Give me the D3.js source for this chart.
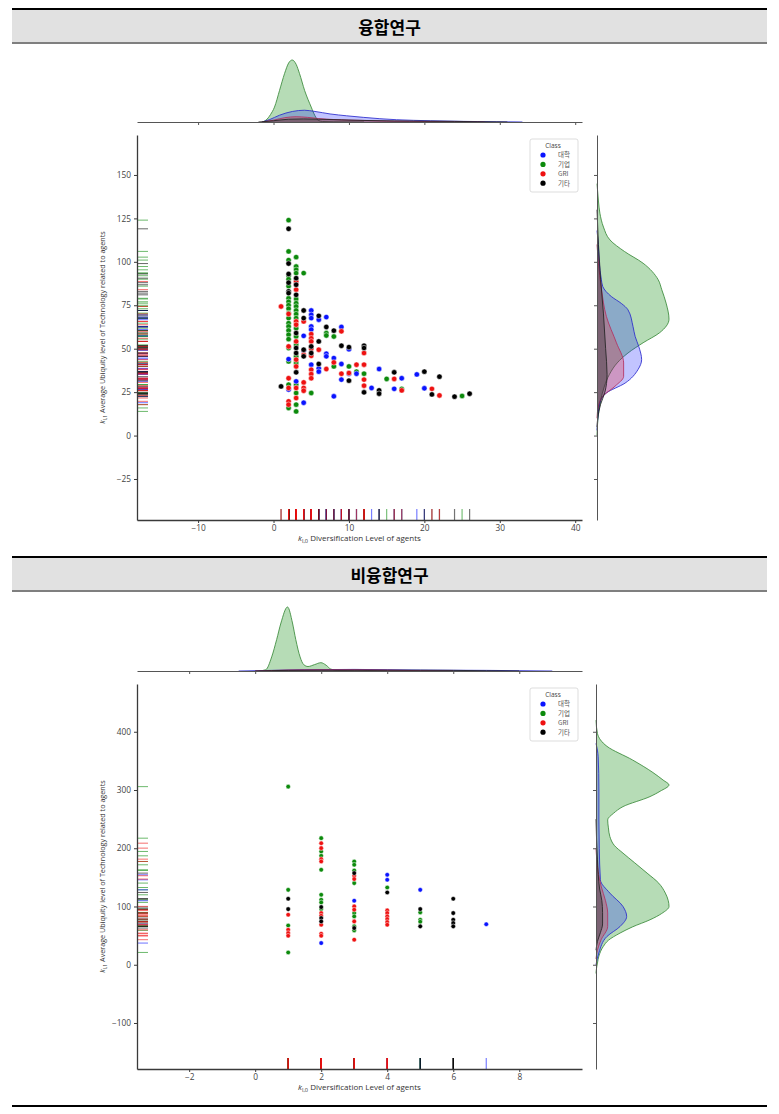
<!DOCTYPE html>
<html><head><meta charset="utf-8">
<script src="https://cdn.jsdelivr.net/npm/d3@7"></script>
<style>body{margin:0;background:#fff}</style>
</head><body><svg id="c" width="779" height="1114"></svg>
<script>
// ---------------- DATA ----------------
const classes = ["대학", "기업", "GRI", "기타"];
const titles = ["융합연구", "비융합연구"];
const xLabelSub = ["l,0", "l,0"];
const yLabelSub = ["l,1", "l,1"];
const xLabelText = "Diversification Level of agents";
const yLabelText = "Average Ubiquity level of Technology related to agents";

const convXTicks = [-10, 0, 10, 20, 30, 40];
const convYTicks = [-25, 0, 25, 50, 75, 100, 125, 150];
const nonXTicks = [-2, 0, 2, 4, 6, 8];
const nonYTicks = [-100, 0, 100, 200, 300, 400];
const convXDomain = [-18.1, 40.9];
const convYDomain = [-48.6, 173];
const nonXDomain = [-3.58, 9.9];
const nonYDomain = [-179, 482];

// 융합연구 points [x, y]
const convUniv = [[2,44],[2,26.5],[3,31.2],[4,57.4],[4,49],[4,18.9],[5,72],[5,69.5],[5,67.6],[5,62.8],[5,61],[5,40.8],[6,66.7],[6,38.7],[6,36.8],[7,68.2],[7,47.1],[7,45.6],[8,44.6],[8,22.6],[9,62.5],[9,41.2],[9,32.2],[10,49.7],[10,35.6],[11,35.6],[13,27.4],[14,38.3],[16,26.9],[17,33],[19,35.2],[20,27.2]];
const convCorp = [[2,124],[2,106],[2,101],[2,92],[2,90],[2,86],[2,79],[2,77],[2,75],[2,73],[2,70.5],[2,67.6],[2,64.7],[2,62.8],[2,60.5],[2,58],[2,55.5],[2,50.4],[2,42.7],[2,29.3],[2,15.9],[3,102.7],[3,97.3],[3,95.4],[3,93.5],[3,78.6],[3,76.2],[3,74.3],[3,72],[3,69.9],[3,67.6],[3,61.8],[3,57],[3,52.2],[3,45.6],[3,41.8],[3,29.3],[3,24.5],[3,17.8],[3,13.9],[4,93.5],[5,24.5],[7,59],[7,57.6],[8,57],[8,39.8],[10,39.8],[11,36.8],[12,35.6],[15,32.6],[17,26.9],[25,22.8]];
const convGri = [[1,74.3],[2,70],[2,51.3],[2,33],[2,27.4],[2,19.7],[2,17.8],[3,88.7],[3,84],[3,65.7],[3,63.8],[3,54.2],[3,43.7],[3,39.8],[3,27.4],[3,21.6],[4,65.7],[4,46.5],[4,30.6],[4,27.4],[4,25.8],[5,58.4],[5,56],[5,54.2],[5,49.9],[5,45.9],[5,37.9],[5,35.4],[5,33],[6,49.4],[7,38.3],[8,42.1],[9,60],[9,35.6],[10,36],[11,40.8],[12,47.5],[12,40.8],[12,32.2],[12,28.7],[16,32.6],[17,26],[21,26.9],[22,23.1]];
const convEtc = [[1,28.3],[2,119],[2,99],[2,93],[2,88],[2,83],[2,82],[3,90.6],[3,86.8],[3,81],[3,59],[3,50.4],[3,47.5],[3,36.4],[4,72],[4,67.6],[4,49.4],[4,45.6],[5,51.3],[5,47.5],[6,68.9],[6,54.2],[6,41.2],[7,62.5],[8,60.4],[9,51.7],[10,50.9],[10,31.6],[12,51.7],[12,50.4],[12,24.9],[14,26],[14,24.1],[16,36.4],[20,36.8],[21,23.7],[22,33.9],[24,22.4],[26,24.1]];

// 비융합연구 points [x, y]
const nonUniv = [[2,37.2],[3,109.9],[4,154.4],[4,145.8],[5,128.6],[7,69.6]];
const nonCorp = [[1,305.8],[1,128.6],[1,67.4],[1,21.1],[2,217.3],[2,194.5],[2,187],[2,163],[2,120.1],[2,111.5],[2,107],[2,95.5],[3,177.3],[3,171.6],[3,161.9],[3,140.2],[3,88.7],[3,83],[3,65.9],[3,59],[4,132.6],[5,89.9],[5,77.2],[5,73.8]];
const nonGri = [[1,85.8],[1,60],[1,54.3],[1,49.7],[2,208.7],[2,200.2],[2,181.3],[2,177.3],[2,88.7],[2,84.1],[2,68.6],[2,53.2],[2,49.7],[3,152.8],[3,147.1],[3,100.2],[3,94.5],[3,74.4],[3,43],[4,93.3],[4,88.7],[4,83],[4,78.4],[4,73.2],[4,68.6]];
const nonEtc = [[1,113.2],[1,95.5],[2,99],[2,80.1],[2,74.4],[3,157.3],[3,63],[4,124.1],[5,95.5],[5,65.9],[6,113.2],[6,88.7],[6,77.2],[6,71.5],[6,65.9]];

// marginal densities (relative) [value, density]
const convXDensUniv = [[-1.5,0],[-0.5,0.04],[0.8,0.11],[2.5,0.17],[4.1,0.19],[5.5,0.17],[7.5,0.13],[9.7,0.1],[11.9,0.075],[14.1,0.053],[16.3,0.037],[20.8,0.02],[25.2,0.01],[29.6,0.004],[33,0]];
const convXDensCorp = [[-1.5,0],[-1,0.03],[-0.4,0.12],[0.13,0.24],[0.8,0.51],[1.46,0.78],[2,0.95],[2.48,1],[3,0.93],[3.45,0.78],[4.12,0.51],[5,0.24],[5.5,0.1],[5.9,0.03],[6.5,0.008],[8,0.003],[12,0]];
const convXDensGri = [[-1.5,0],[0,0.03],[1.5,0.07],[3,0.085],[4.5,0.075],[6,0.055],[8,0.04],[10,0.03],[12,0.025],[15,0.015],[18,0.01],[22,0.006],[25,0.002],[28,0]];
const convXDensEtc = [[-2,0],[0,0.02],[2,0.045],[4,0.05],[6,0.045],[9,0.035],[12,0.025],[16,0.018],[20,0.014],[24,0.01],[27,0.005],[31,0]];
const convYDensUniv = [[3,0],[9.2,0.01],[18.8,0.04],[24.5,0.13],[30.2,0.39],[38,0.57],[43.7,0.62],[51.3,0.58],[57,0.53],[62.8,0.5],[72.4,0.43],[76,0.34],[80,0.2],[85.8,0.08],[90,0.06],[100,0.03],[112,0.015],[118,0]];
const convYDensCorp = [[0,0],[5,0.005],[12,0.02],[20,0.05],[28,0.1],[35,0.17],[41.8,0.28],[47.5,0.43],[53.4,0.64],[59.2,0.87],[67,1],[76.2,0.96],[83.9,0.9],[89.7,0.85],[99.2,0.64],[106,0.38],[112.6,0.18],[120,0.09],[128,0.04],[135,0.02],[145,0]];
const convYDensGri = [[10,0],[16.9,0.02],[22.6,0.08],[28.4,0.25],[34.1,0.37],[41.8,0.37],[53.4,0.27],[68.6,0.13],[85,0.06],[99.2,0.02],[110,0]];
const convYDensEtc = [[5,0],[10,0.01],[18,0.05],[25,0.11],[35,0.14],[50,0.12],[70,0.09],[90,0.05],[110,0.02],[130,0]];

const nonXDensUniv = [[-0.5,0],[0.5,0.01],[1.5,0.02],[3,0.025],[4,0.02],[5,0.015],[6,0.012],[7,0.01],[8,0.005],[9,0]];
const nonXDensCorp = [[0.1,0],[0.32,0.02],[0.5,0.22],[0.65,0.49],[0.78,0.75],[0.98,1],[1.13,0.75],[1.23,0.49],[1.36,0.22],[1.47,0.1],[1.6,0.07],[1.8,0.1],[1.99,0.13],[2.15,0.09],[2.29,0.03],[2.5,0.01],[2.8,0.012],[3.1,0.018],[3.4,0.008],[4,0]];
const nonXDensGri = [[0,0],[1,0.015],[2,0.02],[3,0.02],[4,0.015],[5,0.005],[6,0]];
const nonXDensEtc = [[0,0],[1,0.01],[2,0.012],[3,0.012],[4,0.012],[5,0.012],[6,0.01],[7,0.004],[8,0]];
const nonYDensUniv = [[0,0],[20.5,0.04],[48.5,0.15],[65.7,0.33],[82.8,0.42],[100,0.37],[123,0.19],[145.8,0.06],[200,0.045],[250,0.04],[300,0.04],[357,0.03],[380,0]];
const nonYDensCorp = [[-15,0],[-10,0.003],[2.9,0.02],[15,0.04],[31.4,0.1],[42,0.17],[54.4,0.33],[65,0.5],[77.2,0.74],[88,0.9],[100,1],[110,0.99],[123,0.95],[140,0.86],[157.3,0.7],[175,0.53],[191.6,0.37],[205,0.25],[220,0.19],[235,0.17],[248.7,0.16],[260,0.24],[271.5,0.37],[288.7,0.74],[298,0.88],[308.7,1],[317,0.92],[330,0.78],[351.6,0.5],[375,0.15],[397,0.02],[420,0]];
const nonYDensGri = [[10,0],[25,0.02],[42.9,0.07],[65.7,0.16],[88.7,0.16],[110,0.13],[135,0.07],[160,0.03],[200,0]];
const nonYDensEtc = [[25,0],[40,0.02],[55,0.06],[70,0.09],[90,0.09],[110,0.08],[130,0.05],[180,0.02],[250,0]];

// ---------------- DRAWING ----------------
const colors = { "대학": "#0a14ff", "기업": "#0c8a0c", "GRI": "#ee1111", "기타": "#000000" };
const edgeColors = { "대학": "#2a2acc", "기업": "#3a8a3a", "GRI": "#b33060", "기타": "#222" };
const svg = d3.select("#c");
svg.append("rect").attr("width", 779).attr("height", 1114).attr("fill", "#fff");
const FONT = "'Open Sans', 'DejaVu Sans', sans-serif";

function header(y0, title) {
  svg.append("rect").attr("x", 12).attr("y", y0 + 2).attr("width", 755).attr("height", 33).attr("fill", "#e1e1e1");
  svg.append("rect").attr("x", 12).attr("y", y0).attr("width", 755).attr("height", 2).attr("fill", "#000");
  svg.append("rect").attr("x", 12).attr("y", y0 + 34).attr("width", 755).attr("height", 2).attr("fill", "#7f7f7f");
  svg.append("text").attr("x", 389.5).attr("y", y0 + 26).attr("text-anchor", "middle")
    .attr("font-family", "'Noto Sans CJK KR', sans-serif").attr("font-weight", "bold")
    .attr("font-size", 17).attr("fill", "#000").text(title);
}

function kLabel(t, sub, rest, fs) {
  t.append("tspan").attr("font-style", "italic").text("k");
  t.append("tspan").attr("font-size", fs * 0.7).attr("dy", fs * 0.25).text(sub);
  t.append("tspan").attr("dy", -fs * 0.25).text(" " + rest);
}

function panel(cfg) {
  const g = svg.append("g");
  const L = 137, R = 582;
  const x = d3.scaleLinear().domain(cfg.xDomain).range([L, R]);
  const y = d3.scaleLinear().domain(cfg.yDomain).range([cfg.bottom, cfg.top]);
  const hx = d3.scaleLinear().domain([0, 1]).range([cfg.base, cfg.base - cfg.topH]);
  const wy = d3.scaleLinear().domain([0, 1]).range([cfg.rx, cfg.rx + cfg.rightW]);
  const order = ["기업", "대학", "GRI", "기타"];

  const clipId = "clip" + cfg.id;
  svg.append("clipPath").attr("id", clipId).append("rect").attr("x", L).attr("y", 0).attr("width", R - L).attr("height", 1114);

  // top marginal densities
  const areaX = d3.area().x(d => x(d[0])).y0(cfg.base).y1(d => hx(d[1])).curve(d3.curveMonotoneX);
  const lineX = d3.line().x(d => x(d[0])).y(d => hx(d[1])).curve(d3.curveMonotoneX);
  const gt = g.append("g").attr("clip-path", `url(#${clipId})`);
  order.forEach(c => {
    const d = cfg.xDens[c];
    gt.append("path").attr("d", areaX(d)).attr("fill", colors[c]).attr("fill-opacity", c === "기업" ? 0.3 : 0.25);
    gt.append("path").attr("d", lineX(d)).attr("fill", "none").attr("stroke", edgeColors[c]).attr("stroke-opacity", 0.85).attr("stroke-width", 1);
  });
  const axT = g.append("g").attr("transform", `translate(0,${cfg.base})`)
    .call(d3.axisBottom(x).tickValues(cfg.xTicks).tickSize(3).tickSizeOuter(0).tickFormat(""));
  axT.selectAll("path,line").attr("stroke", "#555").attr("stroke-width", 1);

  // right marginal densities
  const areaY = d3.area().y(d => y(d[0])).x0(cfg.rx).x1(d => wy(d[1])).curve(d3.curveMonotoneY);
  const lineY = d3.line().y(d => y(d[0])).x(d => wy(d[1])).curve(d3.curveMonotoneY);
  order.forEach(c => {
    const d = cfg.yDens[c].slice().sort((a, b) => a[0] - b[0]);
    g.append("path").attr("d", areaY(d)).attr("fill", colors[c]).attr("fill-opacity", c === "기업" ? 0.3 : 0.25);
    g.append("path").attr("d", lineY(d)).attr("fill", "none").attr("stroke", edgeColors[c]).attr("stroke-opacity", 0.85).attr("stroke-width", 1);
  });
  const axR = g.append("g").attr("transform", `translate(${cfg.rx},0)`)
    .call(d3.axisLeft(y).tickValues(cfg.yTicks).tickSize(3).tickSizeOuter(0).tickFormat(""));
  axR.selectAll("path,line").attr("stroke", "#555").attr("stroke-width", 1);

  // rugs
  const rugOrder = ["기업", "대학", "기타", "GRI"];
  rugOrder.forEach(c => {
    cfg.pts[c].forEach(p => {
      g.append("line").attr("x1", L).attr("x2", L + 11).attr("y1", y(p[1])).attr("y2", y(p[1]))
        .attr("stroke", colors[c]).attr("stroke-opacity", 0.6).attr("stroke-width", 1);
      g.append("line").attr("x1", x(p[0])).attr("x2", x(p[0])).attr("y1", cfg.bottom).attr("y2", cfg.bottom - 11)
        .attr("stroke", colors[c]).attr("stroke-opacity", 0.55).attr("stroke-width", 1.2);
    });
  });

  // scatter
  order.forEach(c => {
    g.selectAll(null).data(cfg.pts[c]).enter().append("circle")
      .attr("cx", d => x(d[0])).attr("cy", d => y(d[1])).attr("r", cfg.r)
      .attr("fill", colors[c]).attr("stroke", "#fff").attr("stroke-width", 0.5);
  });

  // axes
  const axL = g.append("g").attr("transform", `translate(${L},0)`)
    .call(d3.axisLeft(y).tickValues(cfg.yTicks).tickSize(3).tickSizeOuter(0).tickPadding(3));
  const axB = g.append("g").attr("transform", `translate(0,${cfg.bottom})`)
    .call(d3.axisBottom(x).tickValues(cfg.xTicks).tickSize(3).tickSizeOuter(0).tickPadding(2));
  [axL, axB].forEach(a => {
    a.selectAll("path").attr("stroke", "#3a3a3a").attr("stroke-width", 1.3);
    a.selectAll("line").attr("stroke", "#3a3a3a");
    a.selectAll("text").attr("font-family", FONT).attr("font-size", 8.3).attr("fill", "#444");
  });

  // labels
  const xl = g.append("text").attr("x", (L + R) / 2).attr("y", cfg.bottom + 21).attr("text-anchor", "middle")
    .attr("font-family", FONT).attr("font-size", 8).attr("fill", "#333");
  kLabel(xl, cfg.xSub, xLabelText, 8);
  const yl = g.append("text").attr("transform", `translate(105,${(cfg.top + cfg.bottom) / 2}) rotate(-90)`)
    .attr("text-anchor", "middle").attr("font-family", FONT).attr("font-size", 7.2).attr("fill", "#333");
  kLabel(yl, cfg.ySub, yLabelText, 7.2);

  // legend
  const lg = g.append("g").attr("transform", `translate(530,${cfg.legY})`);
  lg.append("rect").attr("width", 48).attr("height", 53).attr("rx", 2).attr("fill", "#fff")
    .attr("fill-opacity", 0.85).attr("stroke", "#d4d4d4").attr("stroke-width", 0.8);
  lg.append("text").attr("x", 23).attr("y", 8.5).attr("text-anchor", "middle").attr("font-family", FONT)
    .attr("font-size", 6.5).attr("fill", "#444").text("Class");
  classes.forEach((c, i) => {
    lg.append("circle").attr("cx", 13).attr("cy", 16 + i * 9.4).attr("r", 2.6).attr("fill", colors[c]);
    lg.append("text").attr("x", 28).attr("y", 18.3 + i * 9.4).attr("font-family", "'Noto Sans CJK KR', " + FONT)
      .attr("font-size", 6.5).attr("fill", "#555").text(c);
  });
}

header(8, titles[0]);
panel({
  id: "a", xDomain: convXDomain, yDomain: convYDomain, xTicks: convXTicks, yTicks: convYTicks,
  top: 135, bottom: 520, base: 122, topH: 62, rx: 597, rightW: 72, r: 2.7, legY: 139,
  xSub: xLabelSub[0], ySub: yLabelSub[0],
  pts: { "대학": convUniv, "기업": convCorp, "GRI": convGri, "기타": convEtc },
  xDens: { "대학": convXDensUniv, "기업": convXDensCorp, "GRI": convXDensGri, "기타": convXDensEtc },
  yDens: { "대학": convYDensUniv, "기업": convYDensCorp, "GRI": convYDensGri, "기타": convYDensEtc }
});
header(556, titles[1]);
panel({
  id: "b", xDomain: nonXDomain, yDomain: nonYDomain, xTicks: nonXTicks, yTicks: nonYTicks,
  top: 684, bottom: 1069, base: 671, topH: 64, rx: 596, rightW: 73, r: 2.3, legY: 688,
  xSub: xLabelSub[1], ySub: yLabelSub[1],
  pts: { "대학": nonUniv, "기업": nonCorp, "GRI": nonGri, "기타": nonEtc },
  xDens: { "대학": nonXDensUniv, "기업": nonXDensCorp, "GRI": nonXDensGri, "기타": nonXDensEtc },
  yDens: { "대학": nonYDensUniv, "기업": nonYDensCorp, "GRI": nonYDensGri, "기타": nonYDensEtc }
});
svg.append("rect").attr("x", 12).attr("y", 1105).attr("width", 755).attr("height", 2).attr("fill", "#000");
</script></body></html>
